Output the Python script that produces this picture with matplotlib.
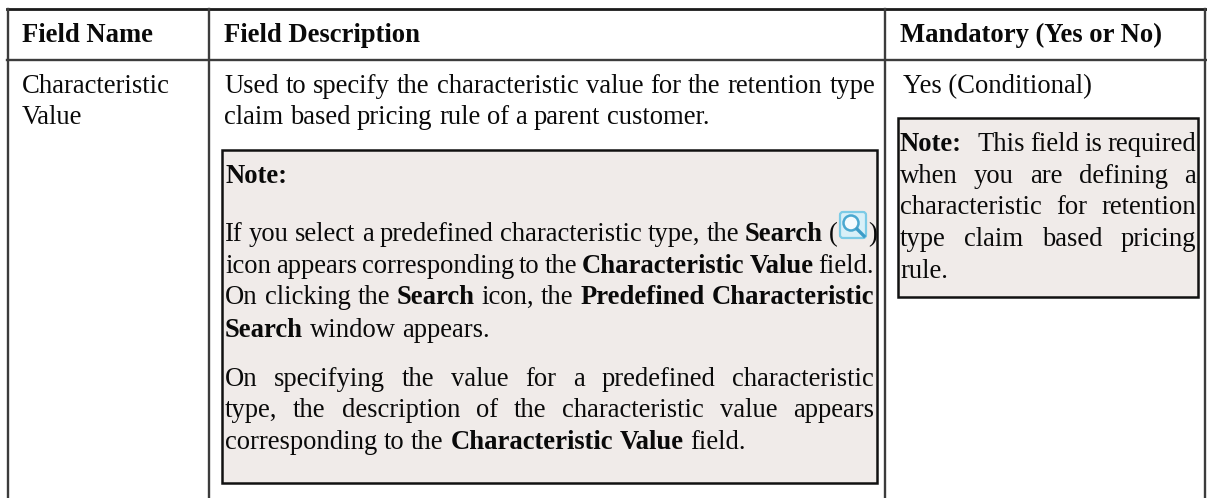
import matplotlib
matplotlib.use('Agg')
import matplotlib.pyplot as plt
from matplotlib.patches import Rectangle, Circle, FancyBboxPatch

plt.rcParams['font.family'] = ['Liberation Serif', 'DejaVu Serif']

W, H = 1207, 498
FS = 19.2

# table content: (baseline y, x left, x right or None if not justified, words as (text, bold))
header_labels = ['Field Name', 'Field Description', 'Mandatory (Yes or No)']
name_lines = ['Characteristic', 'Value']

R = 'r'
B = 'b'
desc_lines = [
    (93, 224, 875, [('Used to specify the characteristic value for the retention type', R)]),
    (124, 224, None, [('claim based pricing rule of a parent customer.', R)]),
]
note_left_lines = [
    (183, 225, None, [('Note:', B)]),
    (241, 225, 838, [('If you select a predefined characteristic type, the', R), ('Search', B), ('(', R)]),
    (273, 225, 874, [('icon appears corresponding to the', R), ('Characteristic Value', B), ('field.', R)]),
    (304, 225, 874, [('On clicking the', R), ('Search', B), ('icon, the', R), ('Predefined Characteristic', B)]),
    (337, 225, None, [('Search', B), ('window appears.', R)]),
    (386, 225, 874, [('On specifying the value for a predefined characteristic', R)]),
    (417, 225, 874, [('type, the description of the characteristic value appears', R)]),
    (449, 225, None, [('corresponding to the', R), ('Characteristic Value', B), ('field.', R)]),
]
note_right_lines = [
    (151, 900, None, [('Note:', B)]),
    (151, 977, 1196, [('This field is required', R)]),
    (183, 900, 1196, [('when you are defining a', R)]),
    (214, 900, 1196, [('characteristic for retention', R)]),
    (246, 900, 1196, [('type claim based pricing', R)]),
    (278, 900, None, [('rule.', R)]),
]

fig = plt.figure(figsize=(W / 100, H / 100), dpi=100)
ax = fig.add_axes([0, 0, 1, 1])
ax.set_xlim(0, W)
ax.set_ylim(H, 0)
ax.axis('off')
renderer = fig.canvas.get_renderer()


def word_width(word, weight):
    t = ax.text(0, 0, word, fontsize=FS, fontweight=weight)
    w = t.get_window_extent(renderer).width
    t.remove()
    return w


# justified lines get the leftover space spread between the words
def draw_line(y, x0, x1, parts):
    words = []
    for text, style in parts:
        for w in text.split(' '):
            words.append((w, 'bold' if style == B else 'normal'))
    widths = [word_width(w, wt) for w, wt in words]
    gap = word_width('a a', 'normal') - 2 * word_width('a', 'normal')
    if x1 is not None and len(words) > 1:
        gap = (x1 - x0 - sum(widths)) / (len(words) - 1)
    x = x0
    for (w, wt), wd in zip(words, widths):
        ax.text(x, y, w, fontsize=FS, fontweight=wt, color='#0a0a0a', va='baseline', ha='left')
        x += wd + gap


# note boxes
for x, y, w, h in [(222, 150, 655, 333), (898, 118, 300, 179)]:
    ax.add_patch(Rectangle((x, y), w, h, facecolor='#f0ebe9', edgecolor='#111111', lw=1.8))

# table grid
grid = '#3c3c3c'
ax.plot([7, 1206], [9, 9], color='#1a1a1a', lw=2)
ax.plot([7, 1206], [60, 60], color=grid, lw=1.7)
for x in [8, 209, 885, 1205]:
    ax.plot([x, x], [9, H], color=grid, lw=1.7)

for x, label in zip([22, 224, 900], header_labels):
    ax.text(x, 42, label, fontsize=FS, fontweight='bold', color='#0a0a0a', va='baseline')
for y, label in zip([93, 124], name_lines):
    ax.text(22, y, label, fontsize=FS, color='#0a0a0a', va='baseline')

for lines in [desc_lines, note_left_lines, note_right_lines]:
    for y, x0, x1, parts in lines:
        draw_line(y, x0, x1, parts)

ax.text(903, 93, 'Yes (Conditional)', fontsize=FS, color='#0a0a0a', va='baseline')

# search icon
ax.add_patch(FancyBboxPatch((840, 212), 26, 26, boxstyle='round,pad=0,rounding_size=3',
                            facecolor='#d8f0f8', edgecolor='#7ccbe6', lw=1.6))
ax.add_patch(Circle((851, 223), 7.5, facecolor='#f4fbfe', edgecolor='#4aa8d0', lw=1.8))
ax.plot([857, 864], [229, 236], color='#3d9cc8', lw=2.4)
ax.text(868, 241, ')', fontsize=FS, color='#0a0a0a', va='baseline')

fig.savefig('out.png', dpi=100)
